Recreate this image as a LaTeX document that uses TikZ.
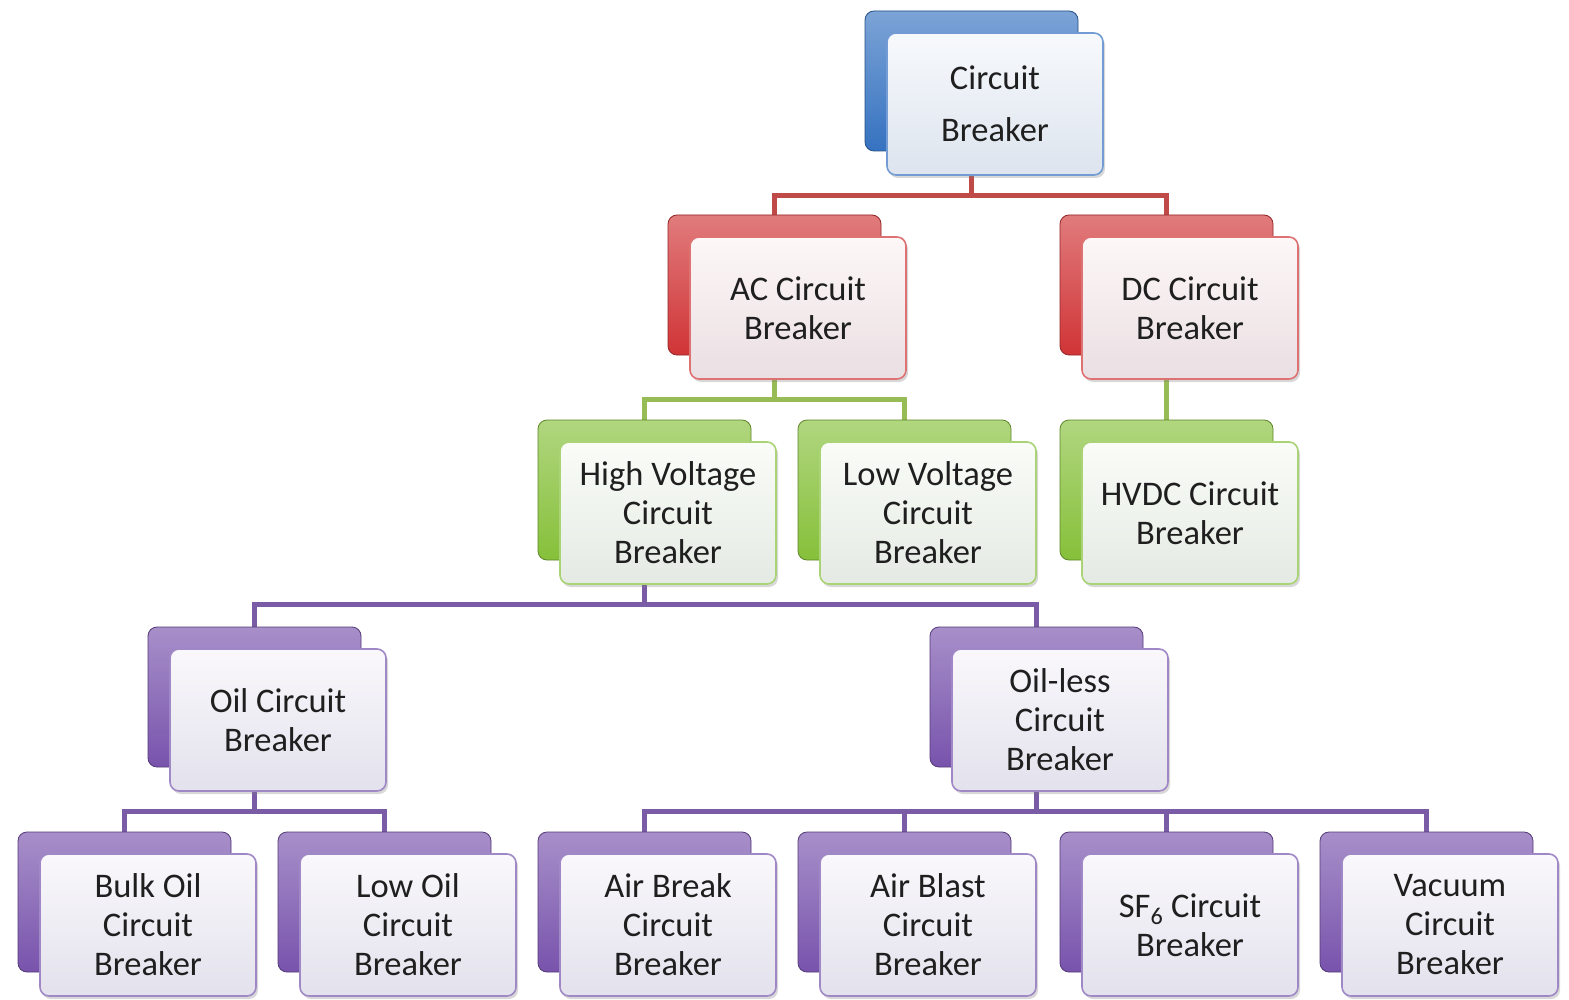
\documentclass[tikz,border=0pt]{standalone}
\usepackage{fontspec}
\setmainfont{Carlito}
\usetikzlibrary{calc,shadows,backgrounds}
\definecolor{cbblue}{HTML}{3572C0}
\definecolor{cbred}{HTML}{D03436}
\definecolor{cbgreen}{HTML}{86C03A}
\definecolor{cbpurple}{HTML}{7853AC}
\definecolor{lnred}{HTML}{C04A47}
\definecolor{lngreen}{HTML}{97BB55}
\definecolor{lnpurple}{HTML}{7A5CA6}
\definecolor{frontfill}{HTML}{ECEEF2}
\tikzset{
  backbox/.style={rounded corners=9pt, minimum width=213pt, minimum height=140pt,
    draw=#1!70!black, line width=0.8pt, top color=#1!65!white, bottom color=#1, inner sep=0pt},
  frontbox/.style={rounded corners=9pt, minimum width=216pt, minimum height=142pt,
    draw=#1!70!white, line width=1.6pt, top color=#1!4!white, bottom color=#1!8!frontfill,
    align=center, font=\fontsize{34.5}{39}\selectfont, text=black!88, inner sep=0pt,
    drop shadow={shadow xshift=2pt, shadow yshift=-3pt, opacity=0.3}},
  conn/.style={line width=5pt, draw=#1, line cap=rect}
}
\newcommand\cbpair[5]{%
  \node[backbox=#4] (#1B) at (#2+106.5,#3+70) {};
  \node[frontbox=#4] (#1) at (#2+22+108,#3+22+71) {#5};
}
\begin{document}
\begin{tikzpicture}[x=1pt,y=-1pt]
\useasboundingbox (0,0) rectangle (1569,1000);
% boxes
\cbpair{top}{865}{11}{cbblue}{Circuit\\[13pt]Breaker}
\cbpair{ac}{668}{215}{cbred}{AC Circuit\\Breaker}
\cbpair{dc}{1060}{215}{cbred}{DC Circuit\\Breaker}
\cbpair{hv}{538}{420}{cbgreen}{High Voltage\\Circuit\\Breaker}
\cbpair{lv}{798}{420}{cbgreen}{Low Voltage\\Circuit\\Breaker}
\cbpair{hvdc}{1060}{420}{cbgreen}{HVDC Circuit\\Breaker}
\cbpair{oil}{148}{627}{cbpurple}{Oil Circuit\\Breaker}
\cbpair{oilless}{930}{627}{cbpurple}{Oil-less\\Circuit\\Breaker}
\cbpair{bulk}{18}{832}{cbpurple}{Bulk Oil\\Circuit\\Breaker}
\cbpair{lowoil}{278}{832}{cbpurple}{Low Oil\\Circuit\\Breaker}
\cbpair{airbreak}{538}{832}{cbpurple}{Air Break\\Circuit\\Breaker}
\cbpair{airblast}{798}{832}{cbpurple}{Air Blast\\Circuit\\Breaker}
\cbpair{sf}{1060}{832}{cbpurple}{SF\textsubscript{6} Circuit\\Breaker}
\cbpair{vacuum}{1320}{832}{cbpurple}{Vacuum\\Circuit\\Breaker}
% connectors
\begin{scope}[on background layer]
\fill[white] (0,0) rectangle (1569,1000);
\path (topB |- top.south) ++(0,20) coordinate (j0);
\draw[conn=lnred] (topB |- top.south) -- (j0) -| (acB.north);
\draw[conn=lnred] (j0) -| (dcB.north);
\path (acB |- ac.south) ++(0,20) coordinate (j1);
\draw[conn=lngreen] (acB |- ac.south) -- (j1) -| (hvB.north);
\draw[conn=lngreen] (j1) -| (lvB.north);
\draw[conn=lngreen] (dcB |- dc.south) -- (hvdcB.north);
\path (hvB |- hv.south) ++(0,20) coordinate (j2);
\draw[conn=lnpurple] (hvB |- hv.south) -- (j2) -| (oilB.north);
\draw[conn=lnpurple] (j2) -| (oillessB.north);
\path (oilB |- oil.south) ++(0,20) coordinate (j3);
\draw[conn=lnpurple] (oilB |- oil.south) -- (j3) -| (bulkB.north);
\draw[conn=lnpurple] (j3) -| (lowoilB.north);
\path (oillessB |- oilless.south) ++(0,20) coordinate (j4);
\draw[conn=lnpurple] (oillessB |- oilless.south) -- (j4) -| (airbreakB.north);
\draw[conn=lnpurple] (j4) -| (airblastB.north);
\draw[conn=lnpurple] (j4) -| (sfB.north);
\draw[conn=lnpurple] (j4) -| (vacuumB.north);
\end{scope}
\end{tikzpicture}
\end{document}
